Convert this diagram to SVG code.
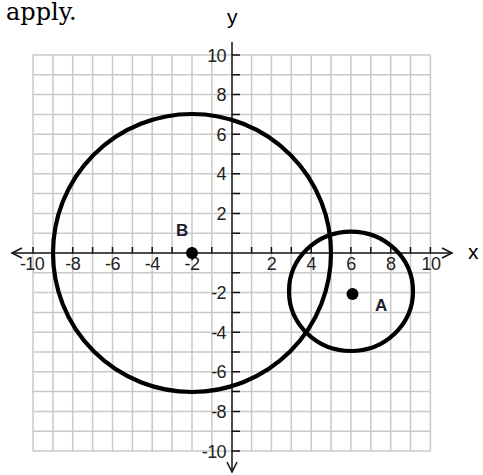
<svg xmlns="http://www.w3.org/2000/svg" width="483" height="475" viewBox="0 0 483 475">
<style>
.grid{stroke:#c9c9c9;stroke-width:1.5;fill:none}
.axis{stroke:#111;stroke-width:1.5;fill:none}
.circ{stroke:#000;stroke-width:4.2;fill:none}
.num{font-family:"Liberation Sans",Arial,sans-serif;font-size:18px;fill:#222;letter-spacing:-0.6px}
.xl{text-anchor:middle}
.yl{text-anchor:end}
.pt{font-family:"Liberation Sans",Arial,sans-serif;font-size:17px;font-weight:bold;fill:#1c1c30}
.ax{font-family:"Liberation Sans",Arial,sans-serif;font-size:21px;fill:#000}
</style>
<rect width="483" height="475" fill="#fff"/>
<text x="6" y="20" font-family="'DejaVu Serif','Liberation Serif',serif" font-size="24" fill="#000">apply.</text>
<g id="grid">
<path class="grid" d="M33,55V451M52.9,55V451M72.7,55V451M92.6,55V451M112.5,55V451M132.4,55V451M152.2,55V451M172.1,55V451M192,55V451M211.8,55V451M251.6,55V451M271.4,55V451M291.3,55V451M311.2,55V451M331.1,55V451M350.9,55V451M370.8,55V451M390.7,55V451M410.5,55V451M430.4,55V451
M33,55H430.4M33,74.8H430.4M33,94.6H430.4M33,114.4H430.4M33,134.2H430.4M33,154H430.4M33,173.8H430.4M33,193.6H430.4M33,213.4H430.4M33,233.2H430.4M33,272.8H430.4M33,292.6H430.4M33,312.4H430.4M33,332.2H430.4M33,352H430.4M33,371.8H430.4M33,391.6H430.4M33,411.4H430.4M33,431.2H430.4M33,451H430.4"/>
</g>
<g id="axes">
<path class="axis" d="M12,253H452M232,42V472"/>
<path class="axis" d="M22,248L12,253L22,258M442,248L452,253L442,258M227,462L232,472L237,462"/>
<path class="axis" d="M33,247V253M52.9,247V253M72.7,247V253M92.6,247V253M112.5,247V253M132.4,247V253M152.2,247V253M172.1,247V253M192,247V253M211.8,247V253M251.6,247V253M271.4,247V253M291.3,247V253M311.2,247V253M331.1,247V253M350.9,247V253M370.8,247V253M390.7,247V253M410.5,247V253M430.4,247V253
M232,55H240M232,74.8H240M232,94.6H240M232,114.4H240M232,134.2H240M232,154H240M232,173.8H240M232,193.6H240M232,213.4H240M232,233.2H240M232,272.8H240M232,292.6H240M232,312.4H240M232,332.2H240M232,352H240M232,371.8H240M232,391.6H240M232,411.4H240M232,431.2H240M232,451H240"/>
<text class="ax" x="468" y="259">x</text>
<text class="ax" x="227" y="24">y</text>
<g class="num xl">
<text x="32" y="270">-10</text><text x="72.7" y="270">-8</text><text x="112.5" y="270">-6</text><text x="152.2" y="270">-4</text><text x="192" y="270">-2</text>
<text x="271.4" y="270">2</text><text x="311.2" y="270">4</text><text x="350.9" y="270">6</text><text x="390.7" y="270">8</text><text x="431" y="270">10</text>
</g>
<g class="num yl">
<text x="226" y="61.5">10</text><text x="226" y="101.1">8</text><text x="226" y="140.7">6</text><text x="226" y="180.3">4</text><text x="226" y="219.9">2</text>
<text x="226" y="299.1">-2</text><text x="226" y="338.7">-4</text><text x="226" y="378.3">-6</text><text x="226" y="417.9">-8</text><text x="226" y="457.5">-10</text>
</g>
</g>
<g id="circleB">
<circle class="circ" cx="192" cy="253" r="139"/>
<circle cx="192" cy="253" r="6" fill="#000"/>
<text class="pt" x="176" y="236">B</text>
</g>
<g id="circleA">
<ellipse class="circ" cx="351" cy="291.3" rx="62" ry="59.7"/>
<circle cx="352.5" cy="294" r="6" fill="#000"/>
<text class="pt" x="375" y="311">A</text>
</g>
</svg>
